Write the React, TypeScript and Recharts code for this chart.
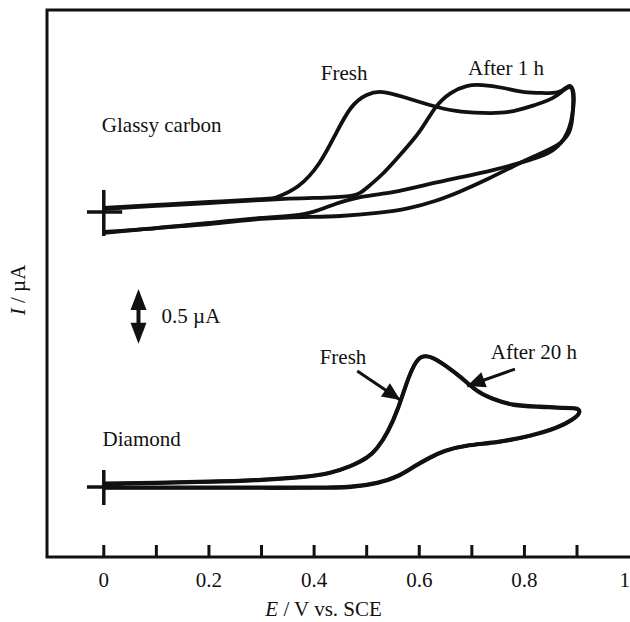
import React from 'react';
import {
  LineChart,
  Line,
  XAxis,
  YAxis,
  ReferenceArea,
  ReferenceLine,
  ReferenceDot,
} from 'recharts';

const FONT = '"Liberation Serif", "Times New Roman", serif';
const INK = '#111';

// potential axis (V vs. SCE)
const xTicks = [0, 0.1, 0.2, 0.3, 0.4, 0.5, 0.6, 0.7, 0.8, 0.9, 1];
const xLabelled = [0, 0.2, 0.4, 0.6, 0.8, 1];
const xDomain = [-0.108, 1.016];
// current axis (µA), no ticks on the original
const yDomain = [0, 5];

// glassy carbon, fresh: forward sweep then reverse
const gcFreshE = [
  0, 0.1, 0.2, 0.3, 0.33, 0.37, 0.41, 0.44, 0.47, 0.5, 0.53, 0.57, 0.62, 0.67, 0.72, 0.77, 0.82, 0.86, 0.89,
  0.891, 0.876, 0.845, 0.79, 0.74, 0.68, 0.62, 0.55, 0.49, 0.43, 0.38, 0.3, 0.2, 0.1, 0,
];
const gcFreshI = [
  3.19, 3.218, 3.245, 3.272, 3.291, 3.391, 3.601, 3.857, 4.104, 4.223, 4.25, 4.205, 4.132, 4.077, 4.059, 4.068, 4.132, 4.214, 4.287,
  4.04, 3.83, 3.693, 3.601, 3.537, 3.473, 3.41, 3.336, 3.291, 3.209, 3.135, 3.099, 3.053, 3.007, 2.971,
];

// glassy carbon, after 1 h
const gc1hE = [
  0, 0.1, 0.2, 0.3, 0.4, 0.47, 0.5, 0.53, 0.56, 0.6, 0.63, 0.66, 0.69, 0.72, 0.76, 0.8, 0.84, 0.87, 0.89,
  0.891, 0.882, 0.86, 0.82, 0.78, 0.73, 0.68, 0.63, 0.58, 0.52, 0.45, 0.38, 0.3, 0.2, 0.1, 0,
];
const gc1hI = [
  3.181, 3.209, 3.236, 3.263, 3.282, 3.3, 3.373, 3.501, 3.656, 3.885, 4.104, 4.241, 4.305, 4.314, 4.287, 4.25, 4.241, 4.26, 4.287,
  4.013, 3.857, 3.757, 3.665, 3.574, 3.455, 3.346, 3.254, 3.19, 3.145, 3.117, 3.108, 3.09, 3.044, 3.007, 2.962,
];

// diamond, fresh
const dmFreshE = [
  0, 0.1, 0.2, 0.3, 0.38, 0.43, 0.47, 0.5, 0.52, 0.54, 0.56, 0.575, 0.59, 0.605, 0.625, 0.65, 0.68, 0.71, 0.74, 0.78, 0.83, 0.87, 0.9,
  0.903, 0.89, 0.86, 0.81, 0.75, 0.69, 0.65, 0.62, 0.59, 0.56, 0.52, 0.47, 0.4, 0.3, 0.2, 0.1, 0,
];
const dmFreshI = [
  0.667, 0.676, 0.686, 0.704, 0.731, 0.768, 0.832, 0.905, 0.996, 1.143, 1.362, 1.572, 1.746, 1.828, 1.819, 1.746, 1.636, 1.517, 1.444, 1.389, 1.371, 1.362, 1.353,
  1.307, 1.252, 1.179, 1.106, 1.051, 1.015, 0.969, 0.905, 0.823, 0.74, 0.676, 0.64, 0.631, 0.631, 0.631, 0.631, 0.631,
];

// diamond, after 20 h (almost on top of the fresh one)
const dm20hE = dmFreshE;
const dm20hI = [
  0.672, 0.68, 0.69, 0.708, 0.735, 0.772, 0.835, 0.91, 1.0, 1.15, 1.37, 1.578, 1.75, 1.83, 1.822, 1.75, 1.64, 1.522, 1.448, 1.394, 1.376, 1.366, 1.356,
  1.31, 1.256, 1.183, 1.11, 1.055, 1.019, 0.973, 0.91, 0.828, 0.745, 0.68, 0.645, 0.636, 0.636, 0.636, 0.636, 0.636,
];

const toRows = (e: number[], i: number[]) => e.map((v, k) => ({ e: v, i: i[k] }));

const series = [
  { key: 'gcFresh', rows: toRows(gcFreshE, gcFreshI) },
  { key: 'gc1h', rows: toRows(gc1hE, gc1hI) },
  { key: 'dmFresh', rows: toRows(dmFreshE, dmFreshI) },
  { key: 'dm20h', rows: toRows(dm20hE, dm20hI) },
];

// annotations: [E, I, text, anchor]
const notes: [number, number, string, string][] = [
  [0.11, 3.95, 'Glassy carbon', 'middle'],
  [0.457, 4.42, 'Fresh', 'middle'],
  [0.765, 4.47, 'After 1 h', 'middle'],
  [0.11, 2.2, '0.5 µA', 'start'],
  [0.455, 1.83, 'Fresh', 'middle'],
  [0.818, 1.87, 'After 20 h', 'middle'],
  [0.072, 1.08, 'Diamond', 'middle'],
];

// pointer arrows: from, tip, heading in degrees (screen)
const arrows: [number, number, number, number, number][] = [
  [0.482, 1.7, 0.564, 1.435, 34],
  [0.782, 1.718, 0.691, 1.563, 160],
];

// start-of-scan crosses at 0 V: [I centre, I low, I high]
const crosses: [number, number, number][] = [
  [3.154, 2.934, 3.355],
  [0.64, 0.475, 0.795],
];

// 0.5 µA scale bar
const scaleE = 0.066;
const scaleLow = 1.95;
const scaleHigh = 2.45;

const TITLE_E = 0.418;
const FS = 21;

const head = (angle: number, len = 16, half = 7) => (p: any) => (
  <polygon
    points={`${p.cx},${p.cy} ${p.cx - len},${p.cy - half} ${p.cx - len},${p.cy + half}`}
    fill={INK}
    transform={`rotate(${angle} ${p.cx} ${p.cy})`}
  />
);

const XTick = (props: any) => {
  const { x, y, payload } = props;
  const v = payload.value;
  const showLine = v < 0.95;
  const showText = xLabelled.some((t) => Math.abs(t - v) < 1e-6);
  const last = v === 1;
  return (
    <g>
      {showLine && <line x1={x} x2={x} y1={y} y2={y - 12} stroke={INK} strokeWidth={3} />}
      {showText && (
        <text
          x={last ? 630 : x}
          y={y + 23}
          textAnchor={last ? 'end' : 'middle'}
          dominantBaseline="central"
          fontFamily={FONT}
          fontSize={FS}
          fill={INK}
        >
          {v === 0 || v === 1 ? String(v) : v.toFixed(1)}
        </text>
      )}
    </g>
  );
};

const XTitle = (props: any) => {
  const vb = props.viewBox;
  const cx = vb.x + ((TITLE_E - xDomain[0]) / (xDomain[1] - xDomain[0])) * vb.width;
  return (
    <text x={cx} y={vb.y + 52} textAnchor="middle" dominantBaseline="central" fontFamily={FONT} fontSize={FS} fill={INK}>
      <tspan fontStyle="italic">E</tspan> / V vs. SCE
    </text>
  );
};

const YTitle = (props: any) => {
  const vb = props.viewBox;
  const x = vb.x + 18;
  const y = vb.y + 280;
  return (
    <text x={x} y={y} textAnchor="middle" dominantBaseline="central" fontFamily={FONT} fontSize={FS} fill={INK} transform={`rotate(-90 ${x} ${y})`}>
      <tspan fontStyle="italic">I</tspan> / µA
    </text>
  );
};

export default function App() {
  return (
    <div style={{ position: 'fixed', left: 0, top: 0, width: 630, height: 622, overflow: 'hidden', background: '#fff' }}>
      <LineChart width={640} height={622} margin={{ top: 10, right: 2, bottom: 0, left: 0 }}>
        <XAxis
          type="number"
          dataKey="e"
          domain={xDomain}
          allowDataOverflow
          ticks={xTicks}
          interval={0}
          tickSize={0}
          tickMargin={0}
          tickLine={false}
          axisLine={false}
          height={65}
          tick={<XTick />}
          label={{ content: <XTitle /> }}
        />
        <YAxis
          type="number"
          dataKey="i"
          domain={yDomain}
          allowDataOverflow
          width={47}
          tick={false}
          tickLine={false}
          axisLine={false}
          label={{ content: <YTitle /> }}
        />
        <ReferenceArea
          x1={xDomain[0]}
          x2={xDomain[1]}
          y1={yDomain[0]}
          y2={yDomain[1]}
          fill="none"
          fillOpacity={0}
          stroke={INK}
          strokeWidth={3}
        />
        {series.map((s) => (
          <Line
            key={s.key}
            data={s.rows}
            dataKey="i"
            type="natural"
            stroke={INK}
            strokeWidth={3.8}
            dot={false}
            activeDot={false}
            isAnimationActive={false}
          />
        ))}
        {crosses.map(([mid, lo, hi], k) => (
          <ReferenceLine key={`ch${k}`} segment={[{ x: -0.032, y: mid }, { x: 0.035, y: mid }]} stroke={INK} strokeWidth={3.5} />
        ))}
        {crosses.map(([mid, lo, hi], k) => (
          <ReferenceLine key={`cv${k}`} segment={[{ x: 0, y: lo }, { x: 0, y: hi }]} stroke={INK} strokeWidth={3.5} />
        ))}
        <ReferenceLine segment={[{ x: scaleE, y: scaleLow + 0.15 }, { x: scaleE, y: scaleHigh - 0.15 }]} stroke={INK} strokeWidth={4} />
        <ReferenceDot x={scaleE} y={scaleHigh} r={0} shape={head(-90, 21, 8)} />
        <ReferenceDot x={scaleE} y={scaleLow} r={0} shape={head(90, 21, 8)} />
        {arrows.map(([e0, i0, e1, i1, ang], k) => (
          <ReferenceLine key={`as${k}`} segment={[{ x: e0, y: i0 }, { x: e1, y: i1 }]} stroke={INK} strokeWidth={3} />
        ))}
        {arrows.map(([e0, i0, e1, i1, ang], k) => (
          <ReferenceDot key={`ah${k}`} x={e1} y={i1} r={0} shape={head(ang, 18, 8)} />
        ))}
        {notes.map(([e, i, text, anchor], k) => (
          <ReferenceDot
            key={`n${k}`}
            x={e}
            y={i}
            r={0}
            shape={(p: any) => (
              <text x={p.cx} y={p.cy} textAnchor={anchor} dominantBaseline="central" fontFamily={FONT} fontSize={FS} fill={INK}>
                {text}
              </text>
            )}
          />
        ))}
      </LineChart>
    </div>
  );
}
